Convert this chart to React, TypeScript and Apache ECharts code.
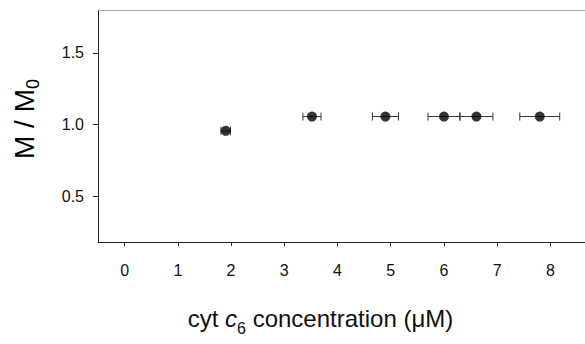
import React, { useEffect, useRef } from "react";
import * as echarts from "echarts";

const concentrations = [1.9, 3.52, 4.9, 6.0, 6.61, 7.8];
const ratios = [0.956, 1.056, 1.056, 1.056, 1.056, 1.056];
const xErrors = [0.09, 0.17, 0.245, 0.3, 0.31, 0.375];
const xTicks = [0, 1, 2, 3, 4, 5, 6, 7, 8];
const yTicks = [0.5, 1.0, 1.5];

const FONT = "'Liberation Sans', Arial, sans-serif";

export default function App() {
  const ref = useRef<HTMLDivElement>(null);
  useEffect(() => {
    if (!ref.current) return;
    const chart = echarts.init(ref.current, undefined, { renderer: "svg" });
    const points = concentrations.map((x, i) => [x, ratios[i]]);
    const bars = concentrations.map((x, i) => [x, ratios[i], xErrors[i]]);
    chart.setOption({
      animation: false,
      backgroundColor: "#ffffff",
      textStyle: { fontFamily: FONT },
      grid: { left: 98, right: 0, top: 10, bottom: 102, containLabel: false },
      xAxis: [
        {
          type: "value",
          min: -0.5,
          max: 8.65,
          position: "bottom",
          axisLine: { show: true, onZero: false, lineStyle: { color: "#222", width: 1 } },
          axisTick: { show: true, inside: false, length: 4, customValues: xTicks, lineStyle: { color: "#222" } },
          axisLabel: {
            customValues: xTicks,
            margin: 20,
            fontSize: 16,
            color: "#111",
            fontFamily: FONT,
          },
          splitLine: { show: false },
          name: "{n|cyt }{i|c}{s|6}{n| concentration (μM)}",
          nameLocation: "middle",
          nameGap: 64,
          nameTextStyle: {
            padding: [0, 42, 0, 0],
            rich: {
              n: { fontSize: 24, fontFamily: FONT, color: "#111", verticalAlign: "top", lineHeight: 28 },
              i: { fontSize: 24, fontFamily: FONT, fontStyle: "italic", color: "#111", verticalAlign: "top", lineHeight: 28 },
              s: { fontSize: 16, fontFamily: FONT, color: "#111", verticalAlign: "top", lineHeight: 28, padding: [14, 0, 0, 0] },
            },
          },
        },
        {
          type: "value",
          min: -0.5,
          max: 8.65,
          position: "top",
          axisLine: { show: true, onZero: false, lineStyle: { color: "#aaaaaa", width: 1 } },
          axisTick: { show: false },
          axisLabel: { show: false },
          splitLine: { show: false },
        },
      ],
      yAxis: {
        type: "value",
        min: 0.18,
        max: 1.8,
        axisLine: { show: true, onZero: false, lineStyle: { color: "#222", width: 1 } },
        axisTick: { show: true, inside: false, length: 5, customValues: yTicks, lineStyle: { color: "#222" } },
        axisLabel: {
          customValues: yTicks,
          margin: 14,
          fontSize: 16,
          color: "#111",
          fontFamily: FONT,
          formatter: (v: number) => v.toFixed(1),
        },
        splitLine: { show: false },
        name: "{n|M / M}{s|0}",
        nameLocation: "middle",
        nameGap: 56,
        nameTextStyle: {
          padding: [0, 0, 0, 14],
          rich: {
            n: { fontSize: 28, fontFamily: FONT, color: "#000", verticalAlign: "top", lineHeight: 32 },
            s: { fontSize: 18, fontFamily: FONT, color: "#000", verticalAlign: "top", lineHeight: 32, padding: [14, 0, 0, 0] },
          },
        },
      },
      series: [
        {
          type: "custom",
          xAxisIndex: 0,
          data: bars,
          encode: { x: 0, y: 1 },
          renderItem: (params: any, api: any) => {
            const x = api.value(0);
            const y = api.value(1);
            const e = api.value(2);
            const l = api.coord([x - e, y]);
            const r = api.coord([x + e, y]);
            const h = 4;
            const style = { stroke: "#333", lineWidth: 1 };
            return {
              type: "group",
              children: [
                { type: "line", shape: { x1: l[0], y1: l[1], x2: r[0], y2: r[1] }, style },
                { type: "line", shape: { x1: l[0], y1: l[1] - h, x2: l[0], y2: l[1] + h }, style },
                { type: "line", shape: { x1: r[0], y1: r[1] - h, x2: r[0], y2: r[1] + h }, style },
              ],
            };
          },
          z: 2,
        },
        {
          type: "scatter",
          xAxisIndex: 0,
          data: points,
          symbol: "circle",
          symbolSize: 10,
          itemStyle: { color: "#000" },
          z: 3,
        },
      ],
    });
    return () => chart.dispose();
  }, []);
  return (
    <div
      ref={ref}
      style={{ position: "fixed", left: 0, top: 0, width: 585, height: 344, background: "#fff" }}
    />
  );
}
